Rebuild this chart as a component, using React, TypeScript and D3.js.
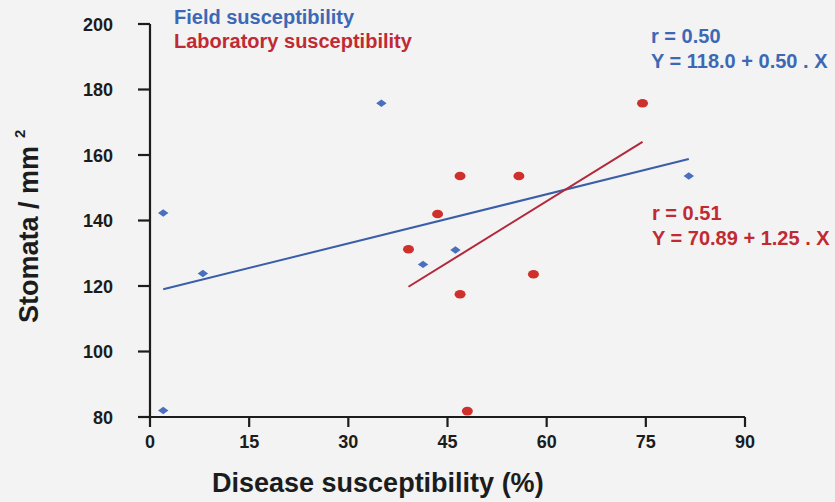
import React from "react";
import * as d3 from "d3";

const fieldX = [2, 2, 8, 35, 41.3, 46.2, 81.5];
const fieldY = [82, 142.3, 123.8, 175.8, 126.6, 131, 153.6];
const labX = [46.9, 55.8, 43.5, 39.1, 58, 46.9, 48, 74.5];
const labY = [153.6, 153.6, 142, 131.2, 123.6, 117.5, 81.8, 175.8];
const xTicks = [0, 15, 30, 45, 60, 75, 90];
const yTicks = [80, 100, 120, 140, 160, 180, 200];
const fieldFit = { a: 118.0, b: 0.5, r: "0.50" };
const labFit = { a: 70.89, b: 1.25, r: "0.51" };
const seriesNames = ["Field susceptibility", "Laboratory susceptibility"];

const W = 835;
const H = 502;
const BLUE = "#3d68b5";
const RED = "#c12a32";
const FONT = "'Liberation Sans', Arial, Helvetica, sans-serif";

export default function App() {
  const x = d3.scaleLinear().domain([0, 90]).range([150, 745]);
  const y = d3.scaleLinear().domain([80, 200]).range([417, 24]);
  const line = d3
    .line<[number, number]>()
    .x((d) => x(d[0]))
    .y((d) => y(d[1]));

  const fx = d3.extent(fieldX) as [number, number];
  const lx = d3.extent(labX) as [number, number];
  const fieldLine: [number, number][] = fx.map((v) => [v, fieldFit.a + fieldFit.b * v]);
  const labLine: [number, number][] = lx.map((v) => [v, labFit.a + labFit.b * v]);

  const diamond = (cx: number, cy: number) =>
    `M${cx - 5.2},${cy} L${cx},${cy - 3.7} L${cx + 5.2},${cy} L${cx},${cy + 3.7} Z`;

  return (
    <div style={{ position: "fixed", left: 0, top: 0 }}>
      <svg width={W} height={H} style={{ display: "block" }} fontFamily={FONT}>
        <rect x={0} y={0} width={W} height={H} fill="#f2f3f2" />
        {/* axes */}
        <g stroke="#1c1c1c" strokeWidth={2.2} fill="none">
          <line x1={x(0)} x2={x(0)} y1={y(200)} y2={y(80)} />
          <line x1={138} x2={x(90)} y1={y(80)} y2={y(80)} />
          {yTicks.map((t) => (
            <line key={"yt" + t} x1={138} x2={x(0)} y1={y(t)} y2={y(t)} />
          ))}
          {xTicks.map((t) => (
            <line key={"xt" + t} x1={x(t)} x2={x(t)} y1={y(80)} y2={y(80) + 10} />
          ))}
        </g>
        <g fontWeight="bold" fontSize={18} fill="#1c1c1c">
          {yTicks.map((t) => (
            <text key={"yl" + t} x={113} y={y(t) + 6.5} textAnchor="end">
              {t}
            </text>
          ))}
          {xTicks.map((t) => (
            <text key={"xl" + t} x={x(t)} y={447.5} textAnchor="middle">
              {t}
            </text>
          ))}
        </g>
        {/* axis titles */}
        <text x={212} y={492} fontWeight="bold" fontSize={27} fill="#1c1c1c">
          Disease susceptibility (%)
        </text>
        <text
          transform="translate(37.5,323) rotate(-90)"
          fontWeight="bold"
          fontSize={27}
          fill="#1c1c1c"
        >
          Stomata / mm
          <tspan dx={8} dy={-13} fontSize={15}>
            2
          </tspan>
        </text>
        {/* regression lines */}
        <path d={line(fieldLine) || ""} stroke="#3a5ea8" strokeWidth={2} fill="none" />
        <path d={line(labLine) || ""} stroke="#b3283a" strokeWidth={2} fill="none" />
        {/* points */}
        {fieldX.map((v, i) => (
          <path key={"f" + i} d={diamond(x(v), y(fieldY[i]))} fill="#4a6fbf" />
        ))}
        {labX.map((v, i) => (
          <ellipse key={"l" + i} cx={x(v)} cy={y(labY[i])} rx={5.5} ry={4.3} fill="#d0302c" />
        ))}
        {/* legend */}
        <g fontWeight="bold" fontSize={20}>
          <text x={174} y={24} fill={BLUE}>
            {seriesNames[0]}
          </text>
          <text x={174} y={48} fill={RED}>
            {seriesNames[1]}
          </text>
        </g>
        {/* equations */}
        <g fontWeight="bold" fontSize={20}>
          <text x={651} y={43} fill={BLUE}>
            r = {fieldFit.r}
          </text>
          <text x={651} y={68} fill={BLUE}>
            Y = {fieldFit.a.toFixed(1)} + {fieldFit.b.toFixed(2)} . X
          </text>
          <text x={652} y={220} fill={RED}>
            r = {labFit.r}
          </text>
          <text x={652} y={245} fill={RED}>
            Y = {labFit.a.toFixed(2)} + {labFit.b.toFixed(2)} . X
          </text>
        </g>
      </svg>
    </div>
  );
}
